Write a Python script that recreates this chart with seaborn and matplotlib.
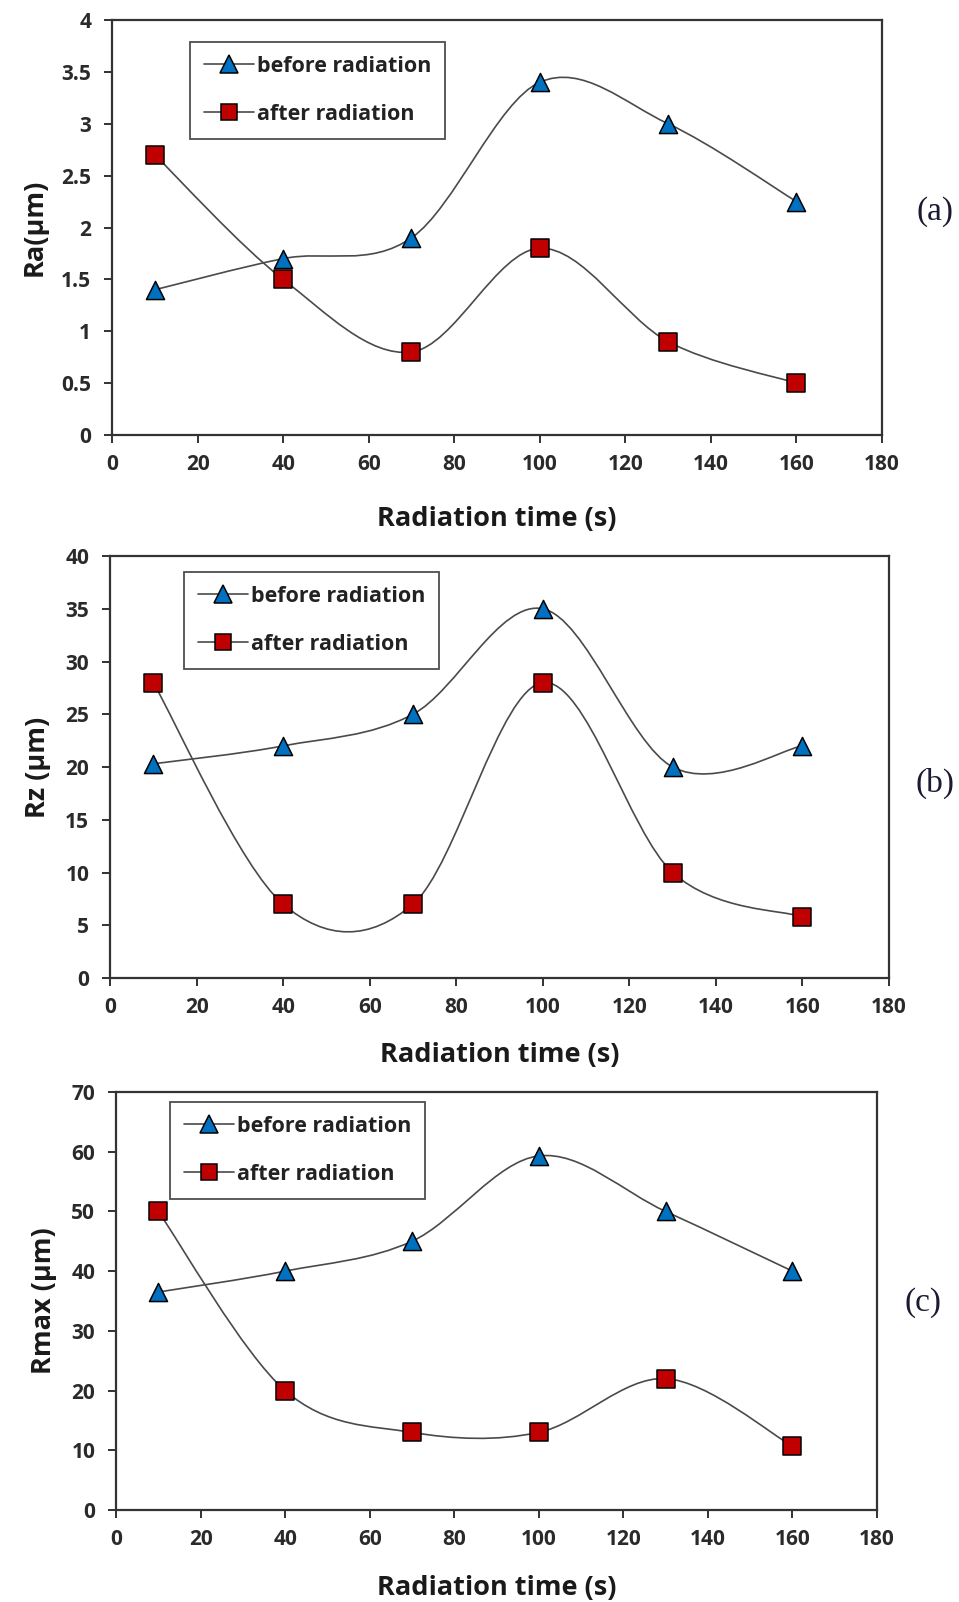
import numpy as np
import seaborn as sns
import matplotlib.pyplot as plt
from matplotlib.path import Path
from matplotlib.patches import PathPatch
from matplotlib.lines import Line2D
from matplotlib.ticker import FuncFormatter

# radiation time (s)
time_s = [10, 40, 70, 100, 130, 160]

# (a) Ra
ra_before = [1.4, 1.7, 1.9, 3.4, 3.0, 2.25]
ra_after = [2.7, 1.5, 0.8, 1.8, 0.9, 0.5]
# (b) Rz
rz_before = [20.3, 22, 25, 35, 20, 22]
rz_after = [28, 7, 7, 28, 10, 5.8]
# (c) Rmax
rmax_before = [36.5, 40, 45, 59.3, 50, 40]
rmax_after = [50, 20, 13, 13, 22, 10.7]

y_labels = ['Ra(µm)', 'Rz (µm)', 'Rmax (µm)']
panel_tags = ['(a)', '(b)', '(c)']
y_max = [4, 40, 70]
y_step = [0.5, 5, 10]

sns.set_style('white')
plt.rcParams['font.family'] = ['Open Sans', 'DejaVu Sans']

BLUE = '#0070C0'
RED = '#C00000'
LINE = '#4a4a4a'
W, H = 959, 1602

# axes boxes in pixels: left, top, right, bottom
boxes = [(112, 20, 882, 435), (110, 556, 889, 978), (116, 1092, 877, 1510)]
legend_pos = [(190, 42), (184, 572), (170, 1102)]
tag_pos = [(935, 212), (935, 783), (923, 1303)]
xlabel_pad = [22, 17, 17.5]


def smooth_path(x, y):
    # Excel style smoothed line: cubic bezier through every point
    pts = np.column_stack([x, y]).astype(float)
    n = len(pts)
    verts = [pts[0]]
    codes = [Path.MOVETO]
    for i in range(n - 1):
        p0 = pts[max(i - 1, 0)]
        p1 = pts[i]
        p2 = pts[i + 1]
        p3 = pts[min(i + 2, n - 1)]
        verts += [p1 + (p2 - p0) / 6, p2 - (p3 - p1) / 6, p2]
        codes += [Path.CURVE4] * 3
    return Path(verts, codes)


fig = plt.figure(figsize=(W / 100, H / 100), dpi=100)
series = [(ra_before, ra_after), (rz_before, rz_after), (rmax_before, rmax_after)]

for k, (before, after) in enumerate(series):
    l, t, r, b = boxes[k]
    ax = fig.add_axes([l / W, 1 - b / H, (r - l) / W, (b - t) / H])

    for vals in (before, after):
        ax.add_patch(PathPatch(smooth_path(time_s, vals), fill=False,
                               edgecolor=LINE, lw=1.2, zorder=2))
    sns.scatterplot(x=time_s, y=before, marker='^', s=170, color=BLUE,
                    edgecolor='black', linewidth=1.1, ax=ax, zorder=3)
    sns.scatterplot(x=time_s, y=after, marker='s', s=150, color=RED,
                    edgecolor='black', linewidth=1.1, ax=ax, zorder=3)

    ax.set_xlim(0, 180)
    ax.set_ylim(0, y_max[k])
    ax.set_xticks(np.arange(0, 181, 20))
    ax.set_yticks(np.arange(0, y_max[k] + y_step[k] / 2, y_step[k]))
    ax.yaxis.set_major_formatter(FuncFormatter(lambda v, p: '%g' % v))
    ax.tick_params(direction='out', length=6, width=1.3, color='#222222',
                   labelsize=15, labelcolor='#2a2a2a', bottom=True, left=True)
    ax.tick_params(axis='x', pad=8)
    ax.tick_params(axis='y', pad=9)
    for lab in ax.get_xticklabels() + ax.get_yticklabels():
        lab.set_fontweight('bold')
    for sp in ax.spines.values():
        sp.set_color('#333333')
        sp.set_linewidth(1.6)

    ax.set_xlabel('Radiation time (s)', fontsize=19.5, fontweight='bold',
                  color='#1a1a1a', labelpad=xlabel_pad[k])
    ax.set_ylabel(y_labels[k], fontsize=19.5, fontweight='bold',
                  color='#1a1a1a', labelpad=10)

    handles = [
        Line2D([], [], color=LINE, lw=1.2, marker='^', ms=13, mfc=BLUE,
               mec='black', mew=1.1),
        Line2D([], [], color=LINE, lw=1.2, marker='s', ms=12, mfc=RED,
               mec='black', mew=1.1),
    ]
    lx, ly = legend_pos[k]
    leg = ax.legend(handles, ['before radiation', 'after radiation'],
                    loc='upper left', bbox_to_anchor=(lx / W, 1 - ly / H),
                    bbox_transform=fig.transFigure, borderaxespad=0,
                    frameon=True, fancybox=False, handlelength=2.3,
                    handletextpad=0.15, labelspacing=1.25, borderpad=0.65,
                    prop={'size': 15.5, 'weight': 'bold'})
    leg.get_frame().set_edgecolor('#222222')
    leg.get_frame().set_linewidth(1.3)
    for txt in leg.get_texts():
        txt.set_color('#222222')

    tx, ty = tag_pos[k]
    fig.text(tx / W, 1 - ty / H, panel_tags[k], ha='center', va='center',
             fontsize=24, family='Liberation Serif', color='#1a1a33')

fig.savefig('out.png', dpi=100)
